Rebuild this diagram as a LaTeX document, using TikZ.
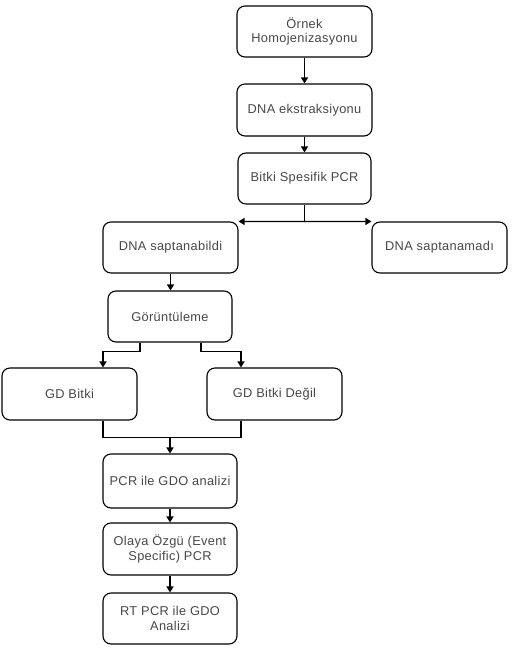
\documentclass[tikz,border=0pt]{standalone}
\usepackage{fontspec}
\setmainfont{Liberation Sans}[LetterSpace=2.5]
\usetikzlibrary{arrows.meta,calc}
\tikzset{
  box/.style={draw=black, line width=1.1pt, rounded corners=8pt, minimum width=135pt, minimum height=51pt,
    inner sep=2pt, align=center, text=black!72, font=\fontsize{12.8}{14.5}\selectfont},
  conn/.style={draw=black, line width=1.3pt},
  arr/.style={conn, -{Triangle[length=6pt,width=7pt]}}
}
\begin{document}
\begin{tikzpicture}[x=1pt,y=-1pt]
\useasboundingbox (0,0) rectangle (513,660);
\node[box] (b1) at (304.5,31.5) {Örnek\\Homojenizasyonu};
\node[box, minimum height=52pt] (b2) at (304.5,110) {DNA ekstraksiyonu};
\node[box, minimum width=133pt] (b3) at (304.5,178.5) {Bitki Spesifik PCR};
\node[box] (l) at (170.5,247.5) {DNA saptanabildi};
\node[box] (r) at (439.5,247.5) {DNA saptanamadı};
\node[box, minimum width=124pt] (g) at (170,316.5) {Görüntüleme};
\node[box, minimum height=52pt] (gd1) at (69.5,394) {GD Bitki};
\node[box, minimum height=52pt] (gd2) at (274.5,394) {GD Bitki Değil};
\node[box, minimum width=134pt, minimum height=54pt] (p1) at (170,481) {PCR ile GDO analizi};
\node[box, minimum width=134pt, minimum height=52pt] (p2) at (170,549) {Olaya Özgü (Event\\Specific) PCR};
\node[box, minimum width=134pt] (p3) at (170,618.5) {RT PCR ile GDO\\Analizi};

\draw[arr] (b1) -- (b2);
\draw[arr] (b2) -- (b3);
\draw[conn] (b3.south) -- ++(0,17) coordinate (j);
\draw[arr] (j) -- (l.north east);
\draw[arr] (j) -- (r.north west);
\draw[arr] (l.south) -- (l.south |- g.north);
\draw[arr] ($(g.south)+(-30,0)$) -- ++(0,9) -| ($(gd1.north)+(33.5,0)$);
\draw[arr] ($(g.south)+(31,0)$) -- ++(0,9) -| ($(gd2.north)+(-33.5,0)$);
\draw[conn] ($(gd1.south)+(33.5,0)$) -- ++(0,17) coordinate (m) -| ($(gd2.south)+(-33.5,0)$);
\draw[arr] (m -| p1.north) -- (p1.north);
\draw[arr] (p1) -- (p2);
\draw[arr] (p2) -- (p3);
\end{tikzpicture}
\end{document}
